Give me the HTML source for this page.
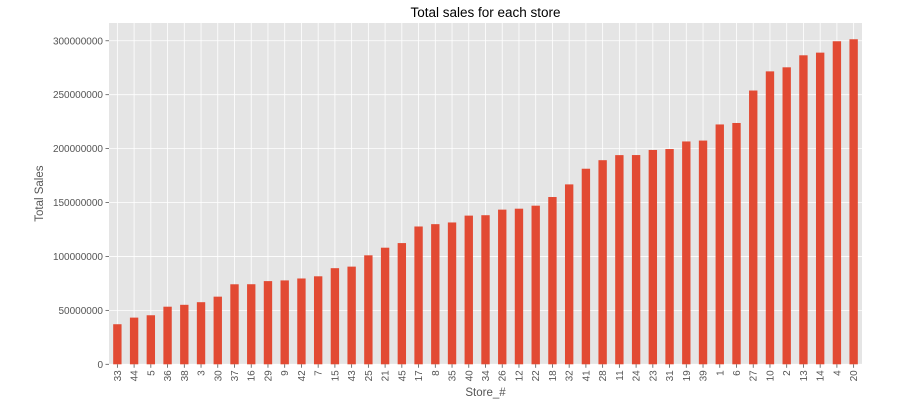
<!DOCTYPE html>
<html><head><meta charset="utf-8"><style>
body{margin:0;background:#fff;}
svg{display:block;font-family:"Liberation Sans","DejaVu Sans",sans-serif;}
</style></head><body>
<svg id="chart" width="908" height="408"></svg>
<script>
const categories=["33","44","5","36","38","3","30","37","16","29","9","42","7","15","43","25","21","45","17","8","35","40","34","26","12","22","18","32","41","28","11","24","23","31","19","39","1","6","27","10","2","13","14","4","20"];
const salesValues=[37.16,43.29,45.48,53.41,55.16,57.59,62.72,74.20,74.25,77.14,77.79,79.57,81.60,89.13,90.57,101.06,108.12,112.40,127.78,129.95,131.52,137.87,138.25,143.42,144.29,147.08,155.11,166.82,181.34,189.26,193.96,194.02,198.75,199.61,206.63,207.45,222.40,223.76,253.86,271.62,275.38,286.52,288.99,299.54,301.40].map(v=>v*1e6);
const yTicks=[0,50000000,100000000,150000000,200000000,250000000,300000000];
const yTickLabels=["0","50000000","100000000","150000000","200000000","250000000","300000000"];

const NS="http://www.w3.org/2000/svg";
const svg=document.getElementById('chart');
const L=109,R=862,T=23,B=364.3;
const yMax=Math.max(...salesValues)*1.05;
const y=v=>B-(v/yMax)*(B-T);
const step=(R-L)/categories.length;
const x=i=>L+(i+0.5)*step;
function mk(tag,attrs,parent){const e=document.createElementNS(NS,tag);for(const k in attrs)e.setAttribute(k,attrs[k]);(parent||svg).appendChild(e);return e;}

const bg=mk('rect',{x:L,y:T,width:R-L,height:B-T,fill:'#e5e5e5'});



yTicks.forEach((t,i)=>{
  const g=mk('line',{x1:L,x2:R,y1:y(t),y2:y(t),stroke:'#fff','stroke-width':0.8});
  
  
  mk('line',{x1:L-3.5,x2:L,y1:y(t),y2:y(t),stroke:'#555','stroke-width':0.8});
  const tx=mk('text',{x:L-6,y:y(t)+3.5,'text-anchor':'end','font-size':10,fill:'#555'});
  tx.textContent=yTickLabels[i];
  
  
});
categories.forEach((c,i)=>{
  const g=mk('line',{x1:x(i),x2:x(i),y1:T,y2:B,stroke:'#fff','stroke-width':0.8});
  
  
});
categories.forEach((c,i)=>{
  const bw=step*0.5;
  const b=mk('rect',{x:x(i)-bw/2,y:y(salesValues[i]),width:bw,height:B-y(salesValues[i]),fill:'#e24a33'});
  
  
  mk('line',{x1:x(i),x2:x(i),y1:B,y2:B+3.5,stroke:'#555','stroke-width':0.8});
  const tx=mk('text',{x:0,y:0,'text-anchor':'end','font-size':10,fill:'#555',transform:`translate(${x(i)+3.5},${B+6}) rotate(-90)`});
  tx.textContent=c;
  
  
});
const title=mk('text',{x:(L+R)/2,y:17,'text-anchor':'middle','font-size':13.5,fill:'#000'});
title.textContent='Total sales for each store';


const xl=mk('text',{x:(L+R)/2,y:396,'text-anchor':'middle','font-size':11.5,fill:'#555'});
xl.textContent='Store_#';


const yl=mk('text',{x:0,y:0,'text-anchor':'middle','font-size':11.5,fill:'#555',transform:`translate(43,${(T+B)/2}) rotate(-90)`});
yl.textContent='Total Sales';


</script>
</body></html>
